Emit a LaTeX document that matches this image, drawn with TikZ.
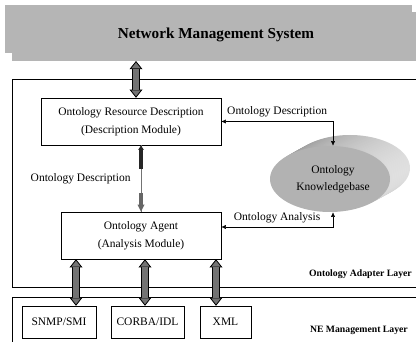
\documentclass[tikz,border=0pt]{standalone}
\usepackage{fontspec}
\setmainfont{Liberation Serif}
\usetikzlibrary{arrows.meta,shapes.geometric}
\colorlet{bnx}{black!29}
\colorlet{fax}{black!55}
\colorlet{kbx}{black!30}
\tikzset{
    box/.style={draw,thin,fill=white,inner sep=0pt,align=center,font=\fontsize{9.8}{15.5}\selectfont},
    tag/.style={inner sep=0pt,font=\fontsize{9.8}{12}\selectfont},
    layer/.style={inner sep=0pt,font=\bfseries\fontsize{8.3}{10}\selectfont},
    fat/.style={draw=black,line width=6pt,
        {Triangle[line width=0.7pt,length=7pt,width=11pt,fill=fax]}-{Triangle[line width=0.7pt,length=7pt,width=11pt,fill=fax]},
        postaction={draw=fax,line width=4.4pt,shorten <=7pt,shorten >=7pt,arrows=-}},
    link/.style={black,thin,{Latex[length=4pt,width=3.5pt]}-{Latex[length=4pt,width=3.5pt]}}
}
\begin{document}
\begin{tikzpicture}[x=0.3mm,y=-0.3mm]
    \useasboundingbox (0,0) rectangle (416,342);
    % top banner
    \fill [bnx] (5,5) rectangle (412,53);
    \fill [bnx] (12,12) rectangle (416,61);
    \node [inner sep=0pt,font=\bfseries\fontsize{13}{15}\selectfont] (nms) at (216,35) {Network Management System};
    \coordinate (nmsb) at (136,61);
    % layer frames
    \draw [thin] (416,79) -- (12,79) -- (12,287) -- (416,287);
    \draw [thin] (416,297) -- (12,297) -- (12,342);
    \node [layer,anchor=east] (oal) at (412,274) {Ontology Adapter Layer};
    \node [layer,anchor=east] (nel) at (408,330) {NE Management Layer};
    % knowledge base
    \foreach \t in {1,0.9,...,0.1} {
        \shade [left color=black!42,right color=black!12] (330+20*\t,179-11*\t) ellipse [x radius=60,y radius=33];
    }
    \fill [kbx] (330,179) ellipse [x radius=60,y radius=33];
    \node [shape=ellipse,inner sep=0pt,minimum width=36mm,minimum height=19.8mm,align=center,
        font=\fontsize{9.8}{14.5}\selectfont] (kb) at (333,179) {Ontology\\Knowledgebase};
    % modules
    \node [box,minimum width=54mm,minimum height=14.1mm] (ord) at (131,121.5)
        {Ontology Resource Description\\(Description Module)};
    \node [box,minimum width=48mm,minimum height=14.1mm] (agent) at (141,235.5)
        {Ontology Agent\\(Analysis Module)};
    \node [box,minimum width=22.2mm,minimum height=9.6mm] (snmp) at (59,322) {SNMP/SMI};
    \node [box,minimum width=21.9mm,minimum height=9.6mm] (corba) at (147.5,322) {CORBA/IDL};
    \node [box,minimum width=15.3mm,minimum height=9.6mm] (xml) at (225.5,322) {XML};
    % connectors
    \draw [fat] (nmsb) -- (nmsb |- ord.north);
    \foreach \x/\b in {76/snmp,145/corba,216/xml} {
        \draw [fat] (agent.south -| \x,0) -- (\x,0 |- \b.north);
    }
    \draw [fax,line width=0.8pt] (agent.north |- ord.south) -- (agent.north)
        node [tag,midway,left=3mm,black] {Ontology Description};
    \draw [black!85,line width=4pt,{Triangle[length=4pt,width=4.5pt]}-] (agent.north |- ord.south) -- ++(0,24);
    \draw [black!60,line width=4pt,-{Triangle[length=6pt,width=5.5pt]}] ([yshift=5.7mm]agent.north) -- (agent.north);
    \draw [link] (ord.east) -| (kb.north)
        node [tag,pos=0.25,above=1.2mm] {Ontology Description};
    \draw [link] ([yshift=2.55mm]agent.east) -| (kb.south)
        node [tag,pos=0.25,above=1.2mm] {Ontology Analysis};
\end{tikzpicture}
\end{document}
